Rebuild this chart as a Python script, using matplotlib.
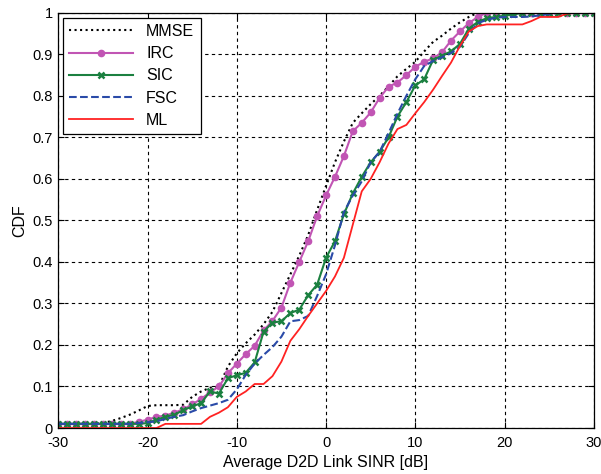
import matplotlib
matplotlib.use("Agg")
import matplotlib.pyplot as plt
import numpy as np

plt.rcParams['font.family'] = ['Liberation Sans', 'DejaVu Sans']
plt.rcParams['axes.unicode_minus'] = False

# SINR grid in dB
sinr = np.arange(-30, 31)

mmse = [0.01, 0.01, 0.01, 0.01, 0.01, 0.012, 0.017, 0.024, 0.032, 0.042,
        0.053, 0.055, 0.055, 0.055, 0.056, 0.075, 0.088, 0.097, 0.1, 0.148,
        0.18, 0.204, 0.225, 0.25, 0.28, 0.325, 0.37, 0.415, 0.465, 0.525,
        0.583, 0.64, 0.69, 0.735, 0.758, 0.78, 0.8, 0.823, 0.847, 0.865,
        0.882, 0.907, 0.93, 0.945, 0.962, 0.977, 0.99, 1.0, 1.0, 1.0,
        1.0, 1.0, 1.0, 1.0, 1.0, 1.0, 1.0, 1.0, 1.0, 1.0, 1.0]

irc = [0.01, 0.01, 0.01, 0.01, 0.01, 0.01, 0.01, 0.01, 0.01, 0.015,
       0.02, 0.027, 0.03, 0.037, 0.045, 0.057, 0.07, 0.086, 0.1, 0.132,
       0.155, 0.178, 0.198, 0.235, 0.258, 0.29, 0.35, 0.4, 0.45, 0.51,
       0.56, 0.605, 0.655, 0.715, 0.735, 0.76, 0.795, 0.822, 0.832, 0.85,
       0.87, 0.882, 0.89, 0.905, 0.933, 0.955, 0.975, 0.99, 1.0, 1.0,
       1.0, 1.0, 1.0, 1.0, 1.0, 1.0, 1.0, 1.0, 1.0, 1.0, 1.0]

sic = [0.01, 0.01, 0.01, 0.01, 0.01, 0.01, 0.01, 0.01, 0.01, 0.01,
       0.012, 0.02, 0.027, 0.032, 0.043, 0.052, 0.06, 0.088, 0.083, 0.12,
       0.127, 0.133, 0.158, 0.232, 0.254, 0.257, 0.277, 0.285, 0.32, 0.345,
       0.41, 0.45, 0.515, 0.565, 0.605, 0.64, 0.665, 0.7, 0.75, 0.785,
       0.825, 0.84, 0.887, 0.897, 0.907, 0.925, 0.962, 0.978, 0.987, 0.99,
       0.993, 0.996, 1.0, 1.0, 1.0, 1.0, 1.0, 1.0, 1.0, 1.0, 1.0]

fsc = [0.01, 0.01, 0.01, 0.01, 0.01, 0.01, 0.01, 0.01, 0.01, 0.012,
       0.014, 0.016, 0.022, 0.027, 0.031, 0.04, 0.048, 0.054, 0.06, 0.068,
       0.093, 0.128, 0.155, 0.176, 0.195, 0.22, 0.257, 0.26, 0.27, 0.318,
       0.37, 0.44, 0.52, 0.56, 0.594, 0.64, 0.665, 0.71, 0.757, 0.8,
       0.84, 0.872, 0.884, 0.893, 0.903, 0.918, 0.951, 0.975, 0.983, 0.988,
       0.99, 0.99, 0.99, 0.991, 0.994, 0.997, 1.0, 1.0, 1.0, 1.0, 1.0]

ml = [0.0, 0.0, 0.0, 0.0, 0.0, 0.0, 0.0, 0.0, 0.0, 0.0,
      0.0, 0.0, 0.01, 0.01, 0.01, 0.01, 0.01, 0.027, 0.037, 0.05,
      0.075, 0.088, 0.106, 0.106, 0.125, 0.16, 0.21, 0.238, 0.27, 0.3,
      0.33, 0.365, 0.41, 0.49, 0.57, 0.6, 0.64, 0.685, 0.72, 0.73,
      0.758, 0.785, 0.815, 0.848, 0.88, 0.92, 0.955, 0.968, 0.972, 0.972,
      0.972, 0.972, 0.972, 0.98, 0.99, 0.99, 0.99, 0.998, 1.0, 1.0, 1.0]

fig = plt.figure(figsize=(6.01, 4.74), dpi=100)
ax = fig.add_axes([0.097, 0.097, 0.891, 0.876])

ax.plot(sinr, mmse, ':', color='black', lw=1.5, label='MMSE')
ax.plot(sinr, irc, '-', color='#c155b4', lw=1.5, marker='o', ms=4.5,
        mec='#c155b4', mfc='#c155b4', label='IRC')
ax.plot(sinr, sic, '-', color='#1b8040', lw=1.5, marker='x', ms=4.5,
        mew=1.8, label='SIC')
ax.plot(sinr, fsc, '--', color='#2a4aa8', lw=1.5, label='FSC')
ax.plot(sinr, ml, '-', color='#ff2222', lw=1.3, label='ML')

ax.set_xlim(-30, 30)
ax.set_ylim(0, 1)
ax.set_xticks(np.arange(-30, 31, 10))
ax.set_yticks(np.arange(0, 1.01, 0.1))
ax.set_yticklabels(['0', '0.1', '0.2', '0.3', '0.4', '0.5', '0.6', '0.7', '0.8', '0.9', '1'])
ax.tick_params(direction='in', top=True, right=True, labelsize=10.5, length=4)
ax.tick_params(axis='x', pad=6)
ax.tick_params(axis='y', pad=4)
ax.grid(True, color='black', linestyle=(0, (3, 3)), linewidth=0.8)
for s in ax.spines.values():
    s.set_linewidth(0.9)

ax.set_xlabel('Average D2D Link SINR [dB]', fontsize=11.5, labelpad=3)
ax.set_ylabel('CDF', fontsize=11.5)

leg = ax.legend(loc='upper left', fontsize=11.5, handlelength=4, fancybox=False,
                framealpha=1, edgecolor='black', borderaxespad=0.3,
                labelspacing=0.45)
leg.get_frame().set_linewidth(0.9)

fig.savefig('out.png', dpi=100)
